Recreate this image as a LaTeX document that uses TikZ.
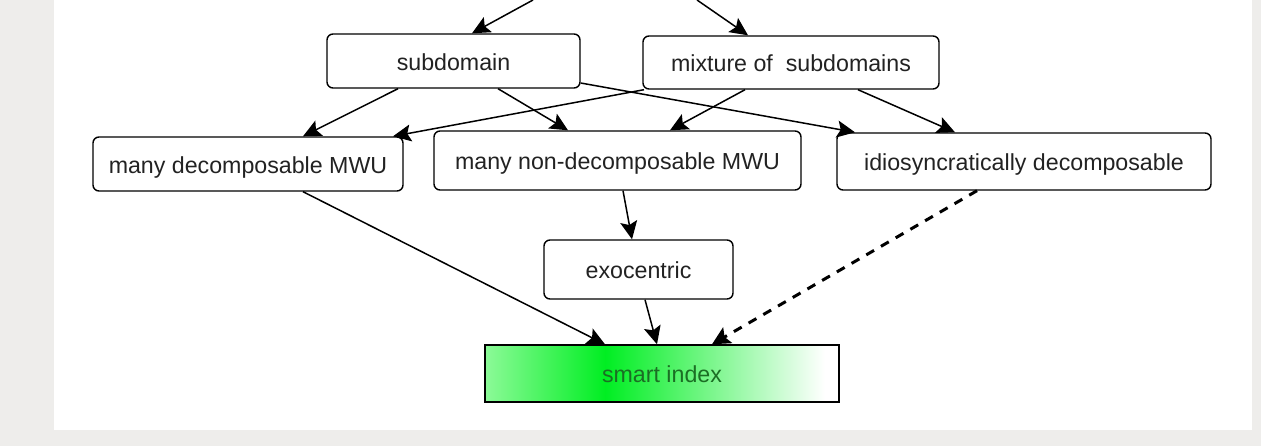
\documentclass[tikz,border=0pt]{standalone}
\usepackage{fontspec}
\setmainfont{Liberation Sans}
\usetikzlibrary{arrows.meta}

\definecolor{pagegray}{HTML}{EEEDEB}
\definecolor{lightgreen}{HTML}{8CFA98}
\definecolor{vividgreen}{HTML}{00EE22}
\definecolor{labelgreen}{HTML}{1B6E24}
\definecolor{inkgray}{HTML}{222222}

% left-to-right fill of the result box: pale green, vivid green, white
\pgfdeclarehorizontalshading{indexshade}{100bp}{%
  color(0bp)=(lightgreen); color(25bp)=(lightgreen);
  color(42bp)=(vividgreen); color(73bp)=(white); color(100bp)=(white)}

\tikzset{
  labeltext/.style={inner sep=0pt, text height=18.6pt, text depth=0pt,
    font=\fontsize{23.2}{26}\selectfont},
  box/.style={labeltext, draw=black, line width=1.4pt, rounded corners=6pt,
    fill=white, text=inkgray},
  result/.style={labeltext, draw=black, line width=1.4pt, shading=indexshade,
    text=labelgreen},
  link/.style={line width=1.5pt, draw=black,
    -{Stealth[length=18pt,width=17pt,inset=3.5pt]}},
  weaklink/.style={link, line width=3pt, dash pattern=on 9pt off 8pt,
    -{Stealth[length=18pt,width=18pt,inset=3.5pt]}}
}

\begin{document}
\begin{tikzpicture}[x=1pt,y=-1pt]
  % page and panel
  \fill[pagegray] (0,0) rectangle (1261,446);
  \useasboundingbox (0,0) rectangle (1261,446);
  \fill[white] (54,0) rectangle (1252,430);

  % nodes
  \node[box, minimum width=253pt, minimum height=54pt] (sub) at (453.5,61) {subdomain};
  \node[box, minimum width=296pt, minimum height=53pt] (mix) at (791,62.5) {mixture of\ \ subdomains};
  \node[box, minimum width=310pt, minimum height=54pt] (mdec) at (248,164) {many decomposable MWU};
  \node[box, minimum width=367pt, minimum height=59pt] (mnd) at (617.5,160.5) {many non-decomposable MWU};
  \node[box, minimum width=374pt, minimum height=57pt] (idio) at (1024,161.5) {idiosyncratically decomposable};
  \node[box, minimum width=189pt, minimum height=59pt] (exo) at (638.5,269.5) {exocentric};
  \node[result, minimum width=354pt, minimum height=57pt] (smart) at (662,373.5) {smart index};

  % incoming connectors from above the panel
  \coordinate (inleft) at (533,0);
  \coordinate (inright) at (697,0);
  \draw[link] (inleft) -- ([xshift=18.5pt]sub.north);
  \draw[link] (inright) -- ([xshift=-43pt]mix.north);

  % from subdomain
  \draw[link] ([xshift=-55.5pt]sub.south) -- ([xshift=55pt]mdec.north);
  \draw[link] ([xshift=44.5pt]sub.south) -- ([xshift=-49.5pt]mnd.north);
  \draw[link] ([yshift=-22pt]sub.east) -- ([xshift=-169pt]idio.north);

  % from mixture of subdomains
  \draw[link] ([xshift=-147pt]mix.south) -- ([xshift=145pt]mdec.north);
  \draw[link] ([xshift=-46pt]mix.south) -- ([xshift=52.5pt]mnd.north);
  \draw[link] ([xshift=67pt]mix.south) -- ([xshift=-69pt]idio.north);

  % towards the smart index
  \draw[link] ([xshift=5.5pt]mnd.south) -- ([xshift=-6.5pt]exo.north);
  \draw[link] ([xshift=55pt]mdec.south) -- ([xshift=-57pt]smart.north);
  \draw[link] ([xshift=6.5pt]exo.south) -- ([xshift=-5pt]smart.north);
  \draw[weaklink] ([xshift=-47pt]idio.south) -- ([xshift=50pt]smart.north);
\end{tikzpicture}
\end{document}
